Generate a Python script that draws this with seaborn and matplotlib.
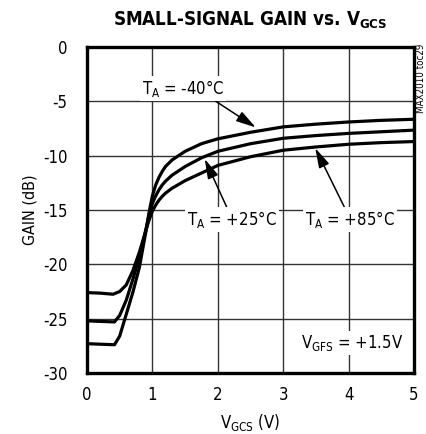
import numpy as np
import pandas as pd
import matplotlib
matplotlib.use("Agg")
import matplotlib.pyplot as plt
import seaborn as sns
from matplotlib import font_manager as fm

# ---- data ----
v_m40 = [0, 0.2, 0.42, 0.5, 0.6, 0.7, 0.8, 0.9, 0.95, 1.0, 1.05, 1.1, 1.15, 1.2, 1.3, 1.5, 1.75, 2.0, 2.5, 3.0, 3.5, 4.0, 4.5, 5.0]
g_m40 = [-27.3, -27.35, -27.4, -26.6, -24.6, -22.6, -20.3, -17.0, -15.2, -13.7, -12.7, -12.0, -11.45, -11.0, -10.4, -9.6, -8.9, -8.45, -7.85, -7.35, -7.1, -6.9, -6.75, -6.65]

v_p25 = [0, 0.2, 0.42, 0.5, 0.6, 0.7, 0.8, 0.9, 0.95, 1.0, 1.05, 1.1, 1.15, 1.2, 1.3, 1.5, 1.75, 2.0, 2.5, 3.0, 3.5, 4.0, 4.5, 5.0]
g_p25 = [-25.2, -25.25, -25.3, -24.7, -23.3, -21.4, -19.4, -16.8, -15.4, -14.4, -13.7, -13.15, -12.7, -12.35, -11.8, -11.0, -10.2, -9.6, -8.9, -8.4, -8.15, -7.95, -7.8, -7.65]

v_p85 = [0, 0.2, 0.4, 0.5, 0.6, 0.7, 0.8, 0.9, 0.95, 1.0, 1.05, 1.1, 1.15, 1.2, 1.3, 1.5, 1.75, 2.0, 2.5, 3.0, 3.5, 4.0, 4.5, 5.0]
g_p85 = [-22.6, -22.65, -22.75, -22.5, -21.9, -20.6, -18.9, -16.9, -15.9, -15.1, -14.55, -14.1, -13.75, -13.45, -13.0, -12.3, -11.6, -10.9, -10.1, -9.5, -9.2, -8.95, -8.8, -8.7]

series_names = ["-40", "+25", "+85"]
x_ticks = [0, 1, 2, 3, 4, 5]
y_ticks = [0, -5, -10, -15, -20, -25, -30]

df = pd.concat([
    pd.DataFrame({"V": v_m40, "G": g_m40, "T": series_names[0]}),
    pd.DataFrame({"V": v_p25, "G": g_p25, "T": series_names[1]}),
    pd.DataFrame({"V": v_p85, "G": g_p85, "T": series_names[2]}),
])

sns.set_style("white")
fam = "DejaVu Sans"
stretch = "normal"
cond = [f for f in fm.fontManager.ttflist if "Condensed" in f.fname and "DejaVuSans" in f.fname]
if cond:
    stretch = "condensed"
else:
    fam = "Liberation Sans"
plt.rcParams["font.family"] = [fam, "DejaVu Sans"]
plt.rcParams["font.stretch"] = stretch
plt.rcParams["axes.unicode_minus"] = False
plt.rcParams["text.color"] = "black"
plt.rcParams["axes.labelcolor"] = "black"
plt.rcParams["mathtext.fontset"] = "custom"
plt.rcParams["mathtext.rm"] = fam
plt.rcParams["mathtext.it"] = fam
plt.rcParams["mathtext.bf"] = fam + ":bold"

fig = plt.figure(figsize=(4.27, 4.34), dpi=100)
ax = fig.add_axes([87/427, 61/434, 327/427, 326/434])

sns.lineplot(data=df, x="V", y="G", hue="T", palette=["black"]*3, lw=2.3,
             legend=False, ax=ax, sort=False)

ax.set_xlim(0, 5)
ax.set_ylim(-30, 0)
ax.set_xticks(x_ticks)
ax.set_yticks(y_ticks)
ax.grid(True, color="#333333", lw=1.0)
ax.set_axisbelow(True)
for s in ax.spines.values():
    s.set_linewidth(2.4)
    s.set_color("black")
ax.tick_params(axis="both", length=0, labelsize=12, colors="black")
ax.tick_params(axis="y", pad=14)
ax.tick_params(axis="x", pad=9)

ax.set_xlabel(r"V$_{\mathrm{GCS}}$ (V)", fontsize=12, labelpad=6)
ax.set_ylabel("GAIN (dB)", fontsize=11.5, labelpad=4)

fig.text(0.585, 0.953, r"SMALL-SIGNAL GAIN vs. V$_{\mathbf{GCS}}$", ha="center", va="center",
         fontsize=13.5, fontweight="bold")

box = dict(facecolor="white", edgecolor="none", pad=1.5)
ap = dict(arrowstyle="-|>,head_length=1.0,head_width=0.28", color="black", lw=1.1, shrinkA=0, shrinkB=0)
ax.annotate(r"T$_{\mathrm{A}}$ = -40°C", xy=(2.58, -7.4), xytext=(1.47, -3.8),
            ha="center", va="center", fontsize=12, bbox=box,
            arrowprops=dict(ap, relpos=(0.85, 0.0)))
ax.annotate(r"T$_{\mathrm{A}}$ = +25°C", xy=(1.8, -10.3), xytext=(2.22, -15.9),
            ha="center", va="center", fontsize=12, bbox=box,
            arrowprops=dict(ap, relpos=(0.45, 1.0)))
ax.annotate(r"T$_{\mathrm{A}}$ = +85°C", xy=(3.49, -9.3), xytext=(4.02, -15.9),
            ha="center", va="center", fontsize=12, bbox=box,
            arrowprops=dict(ap, relpos=(0.45, 1.0)))
ax.text(4.05, -27.2, r"V$_{\mathrm{GFS}}$ = +1.5V", ha="center", va="center",
        fontsize=12, bbox=box)

fig.text(0.985, 0.82, "MAX2010 toc29", rotation=90, ha="center", va="center", fontsize=7)

fig.savefig("out.png", dpi=100)
